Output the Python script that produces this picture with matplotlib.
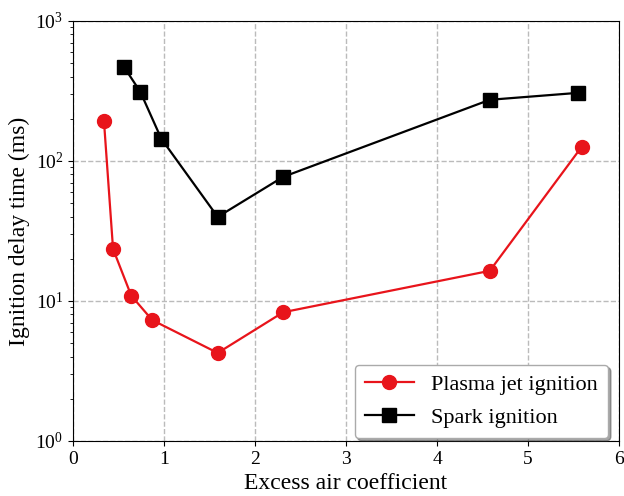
import numpy as np
import matplotlib.pyplot as plt

plt.rcParams['font.family'] = ['Liberation Serif', 'DejaVu Serif']
plt.rcParams['mathtext.fontset'] = 'stix'

# data
plasma_x = [0.34, 0.44, 0.64, 0.87, 1.59, 2.31, 4.58, 5.59]
plasma_y = [193, 23.5, 10.9, 7.3, 4.25, 8.3, 16.4, 126]
spark_x = [0.56, 0.74, 0.97, 1.59, 2.31, 4.58, 5.55]
spark_y = [469, 311, 144, 39.8, 76.9, 273, 306]

fig = plt.figure(figsize=(6.24, 4.96), dpi=100)
ax = fig.add_axes([0.117, 0.111, 0.875, 0.847])

ax.plot(plasma_x, plasma_y, color='#e8141b', marker='o', markersize=10,
        linewidth=1.6, label='Plasma jet ignition', zorder=3)
ax.plot(spark_x, spark_y, color='black', marker='s', markersize=10,
        linewidth=1.6, label='Spark ignition', zorder=3)

ax.set_yscale('log')
ax.set_xlim(0, 6)
ax.set_ylim(1, 1000)
ax.set_xticks(range(0, 7))
ax.grid(True, which='major', linestyle='--', color='#bbbbbb', linewidth=1)
ax.tick_params(labelsize=14, direction='out')
ax.set_xlabel('Excess air coefficient', fontsize=17)
ax.set_ylabel('Ignition delay time (ms)', fontsize=17)

leg = ax.legend(loc='lower right', bbox_to_anchor=(0.98, 0.007), borderaxespad=0,
                fontsize=16, shadow=True, fancybox=True, framealpha=1,
                borderpad=0.45, labelspacing=0.55, handlelength=2.2,
                handletextpad=0.8)
leg.get_frame().set_edgecolor('#aaaaaa')

plt.savefig('out.png', dpi=100)
